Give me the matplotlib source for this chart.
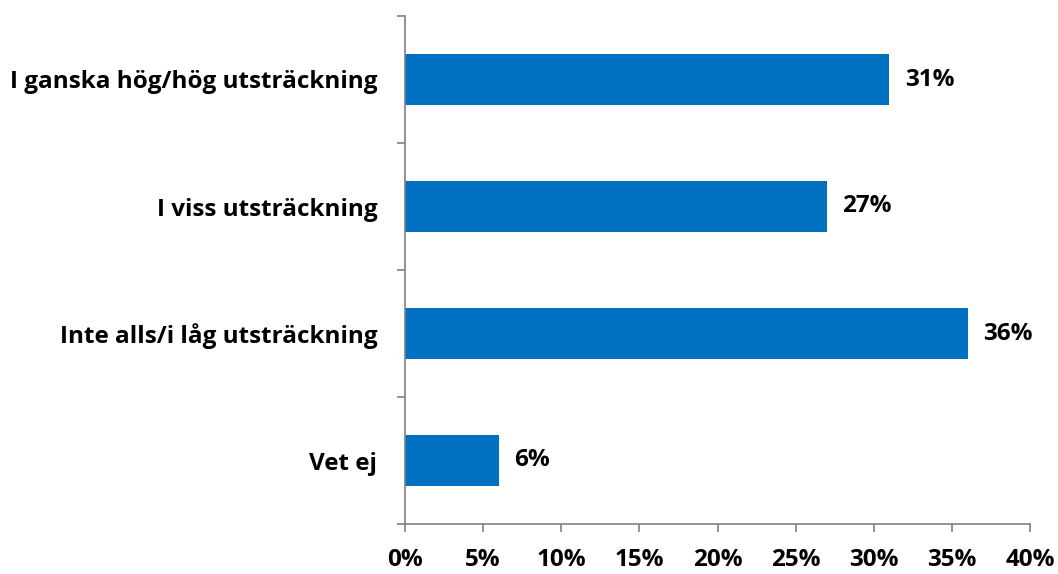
import matplotlib.pyplot as plt
from matplotlib.ticker import FixedLocator

plt.rcParams['font.family'] = ['Open Sans', 'DejaVu Sans']

# Svarsalternativ och andelar (procent)
categories = ['I ganska hög/hög utsträckning', 'I viss utsträckning',
              'Inte alls/i låg utsträckning', 'Vet ej']
values = [31, 27, 36, 6]
xticks = [0, 5, 10, 15, 20, 25, 30, 35, 40]

FS = 17.5

fig = plt.figure(figsize=(10.58, 5.74), dpi=100)
ax = fig.add_axes([405 / 1058, 50 / 574, 625 / 1058, 508 / 574])

ypos = list(range(len(categories)))
ax.barh(ypos, values, height=0.4, color='#0070C0')
ax.set_ylim(len(categories) - 0.5, -0.5)
ax.set_xlim(0, 40)

for y, v in zip(ypos, values):
    ax.annotate(f'{v}%', (v, y), xytext=(11, 0), textcoords='offset points',
                va='center', ha='left', fontsize=FS, fontweight='bold')

ax.set_yticks(ypos)
ax.set_yticklabels(categories, fontsize=FS, fontweight='bold')
ax.yaxis.set_minor_locator(FixedLocator([i - 0.5 for i in range(len(categories) + 1)]))
ax.tick_params(axis='y', which='major', length=0, pad=20)
ax.tick_params(axis='y', which='minor', length=6, width=1.2, color='#808080')

ax.set_xticks(xticks)
ax.set_xticklabels([f'{t}%' for t in xticks], fontsize=FS, fontweight='bold')
ax.tick_params(axis='x', length=6, width=1.2, color='#808080', pad=11)

for side in ['top', 'right']:
    ax.spines[side].set_visible(False)
for side in ['left', 'bottom']:
    ax.spines[side].set_color('#808080')
    ax.spines[side].set_linewidth(1.2)

fig.savefig('out.png', dpi=100)
